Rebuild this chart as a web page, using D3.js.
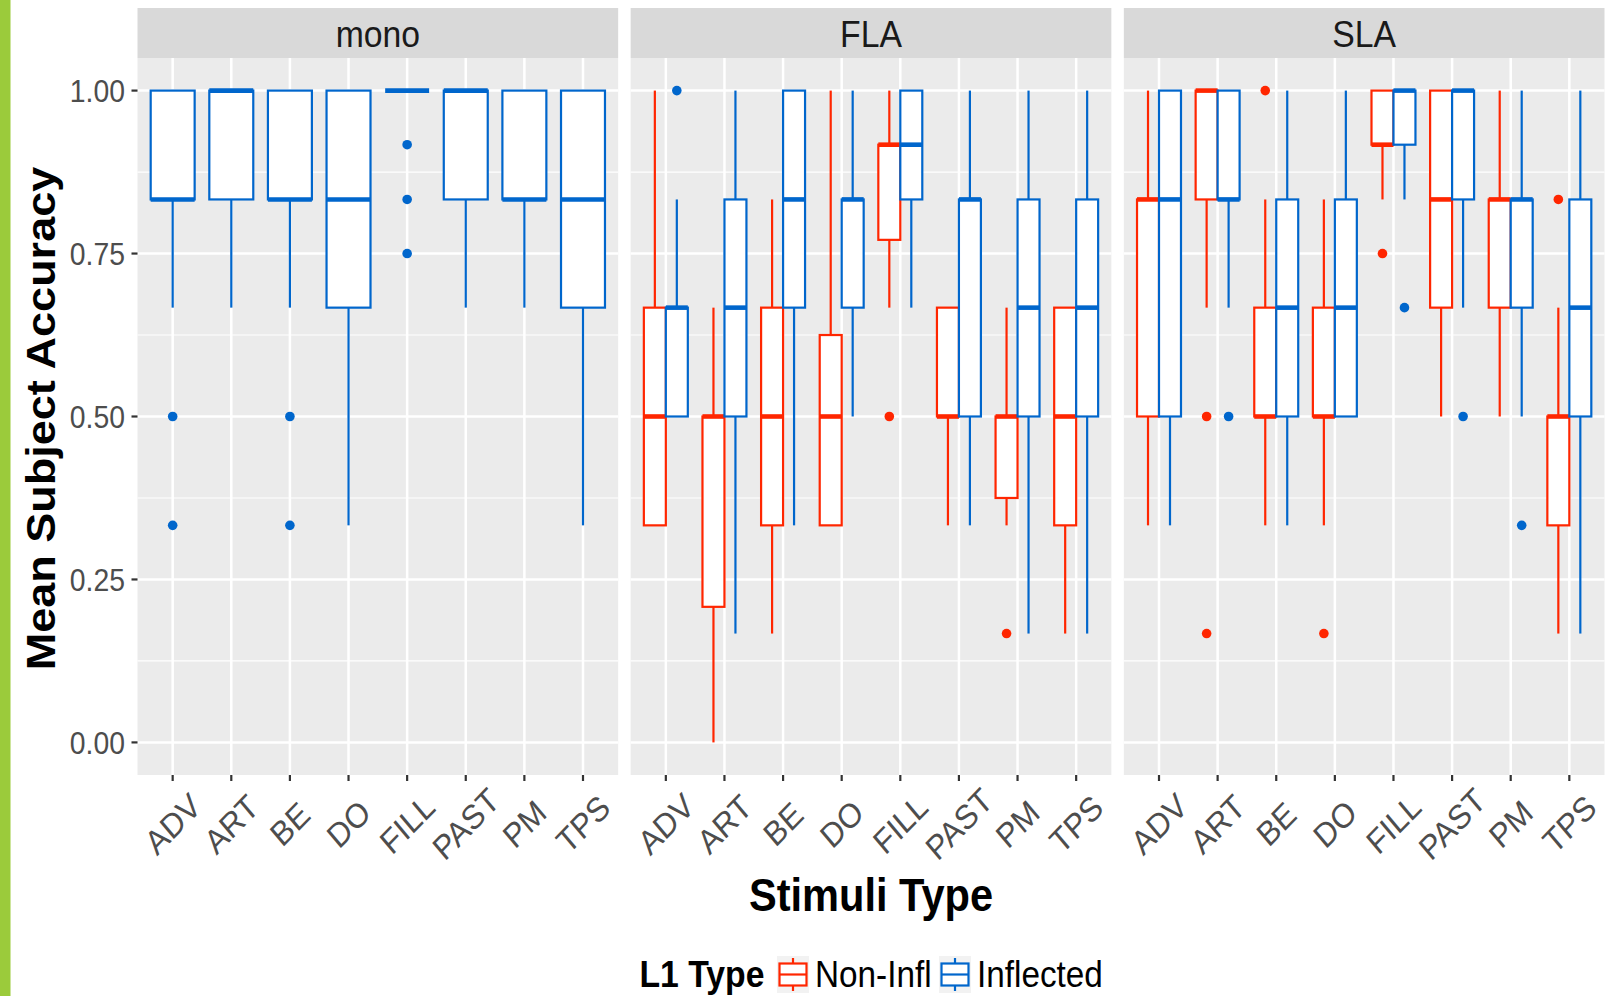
<!DOCTYPE html>
<html>
<head>
<meta charset="utf-8">
<script src="https://cdn.jsdelivr.net/npm/d3@7"></script>
<style>
  html, body { margin: 0; padding: 0; background: #fff; }
  svg { display: block; }
  text { font-family: "Liberation Sans", Arial, Helvetica, sans-serif; }
</style>
</head>
<body>
<svg id="chart" width="1620" height="996"></svg>
<script>
// ---------------- DATA ----------------
const categories = ["ADV", "ART", "BE", "DO", "FILL", "PAST", "PM", "TPS"];
const panels = ["mono", "FLA", "SLA"];
const groups = ["Non-Infl", "Inflected"];
const yTicks = [0, 0.25, 0.5, 0.75, 1];
const yTickLabels = ["0.00", "0.25", "0.50", "0.75", "1.00"];
const yMinor = [0.125, 0.375, 0.625, 0.875];

// each box: [lower whisker, Q1, median, Q3, upper whisker], one per category
const monoInflected = [
  [0.667, 0.833, 0.833, 1, 1],
  [0.667, 0.833, 1, 1, 1],
  [0.667, 0.833, 0.833, 1, 1],
  [0.333, 0.667, 0.833, 1, 1],
  [1, 1, 1, 1, 1],
  [0.667, 0.833, 1, 1, 1],
  [0.667, 0.833, 0.833, 1, 1],
  [0.333, 0.667, 0.833, 1, 1]
];
const monoInflectedOut = [[0.5, 0.333], [], [0.5, 0.333], [], [0.917, 0.833, 0.75], [], [], []];

const flaNonInfl = [
  [0.333, 0.333, 0.5, 0.667, 1],
  [0, 0.208, 0.5, 0.5, 0.667],
  [0.167, 0.333, 0.5, 0.667, 0.833],
  [0.333, 0.333, 0.5, 0.625, 1],
  [0.667, 0.771, 0.917, 0.917, 1],
  [0.333, 0.5, 0.5, 0.667, 0.667],
  [0.333, 0.375, 0.5, 0.5, 0.667],
  [0.167, 0.333, 0.5, 0.667, 0.667]
];
const flaNonInflOut = [[], [], [], [], [0.5], [], [0.167], []];

const flaInflected = [
  [0.5, 0.5, 0.667, 0.667, 0.833],
  [0.167, 0.5, 0.667, 0.833, 1],
  [0.333, 0.667, 0.833, 1, 1],
  [0.5, 0.667, 0.833, 0.833, 1],
  [0.667, 0.833, 0.917, 1, 1],
  [0.333, 0.5, 0.833, 0.833, 1],
  [0.167, 0.5, 0.667, 0.833, 1],
  [0.167, 0.5, 0.667, 0.833, 1]
];
const flaInflectedOut = [[1], [], [], [], [], [], [], []];

const slaNonInfl = [
  [0.333, 0.5, 0.833, 0.833, 1],
  [0.667, 0.833, 1, 1, 1],
  [0.333, 0.5, 0.5, 0.667, 0.833],
  [0.333, 0.5, 0.5, 0.667, 0.833],
  [0.833, 0.917, 0.917, 1, 1],
  [0.5, 0.667, 0.833, 1, 1],
  [0.5, 0.667, 0.833, 0.833, 1],
  [0.167, 0.333, 0.5, 0.5, 0.667]
];
const slaNonInflOut = [[], [0.5, 0.167], [1], [0.167], [0.75], [], [], [0.833]];

const slaInflected = [
  [0.333, 0.5, 0.833, 1, 1],
  [0.667, 0.833, 0.833, 1, 1],
  [0.333, 0.5, 0.667, 0.833, 1],
  [0.5, 0.5, 0.667, 0.833, 1],
  [0.833, 0.917, 1, 1, 1],
  [0.667, 0.833, 1, 1, 1],
  [0.5, 0.667, 0.833, 0.833, 1],
  [0.167, 0.5, 0.667, 0.833, 1]
];
const slaInflectedOut = [[], [0.5], [], [], [0.667], [0.5], [0.333], []];

const colors = { "Non-Infl": "#FF2600", "Inflected": "#0066CC" };

// panel -> list of series present
const panelSeries = {
  mono: [{ group: "Inflected", boxes: monoInflected, out: monoInflectedOut }],
  FLA: [
    { group: "Non-Infl", boxes: flaNonInfl, out: flaNonInflOut },
    { group: "Inflected", boxes: flaInflected, out: flaInflectedOut }
  ],
  SLA: [
    { group: "Non-Infl", boxes: slaNonInfl, out: slaNonInflOut },
    { group: "Inflected", boxes: slaInflected, out: slaInflectedOut }
  ]
};

// ---------------- LAYOUT ----------------
const W = 1620, H = 996;
const plotLeft = 137.5, plotRight = 1604.5;
const panelGap = 12.5;
const stripTop = 8, stripBottom = 58, panelBottom = 775;
const SX = 0.9; // horizontal text compression of the original
const svg = d3.select("#chart");

// left green bar
svg.append("rect").attr("x", 0).attr("y", 0).attr("width", 10.5).attr("height", H).attr("fill", "#9BCB3B");

const bandStep = (plotRight - plotLeft + panelGap) / 3;
const panelScale = d3.scaleBand().domain(panels)
  .range([plotLeft, plotRight])
  .paddingInner(panelGap / bandStep).paddingOuter(0);

const y = d3.scaleLinear().domain([-0.05, 1.05]).range([panelBottom, stripBottom]);

function compressedText(sel, x, yy, rot) {
  return sel.attr("transform", `translate(${x},${yy}) scale(${SX},1)` + (rot ? ` rotate(${rot})` : ""));
}

panels.forEach(p => {
  const left = panelScale(p), pw = panelScale.bandwidth();
  const x = d3.scalePoint().domain(categories).range([left, left + pw]).padding(0.6);
  const step = x.step();
  const g = svg.append("g");

  // strip
  g.append("rect").attr("x", left).attr("y", stripTop).attr("width", pw).attr("height", stripBottom - stripTop).attr("fill", "#D9D9D9");
  compressedText(g.append("text"), left + pw / 2, 46.5)
    .attr("text-anchor", "middle").attr("font-size", 37.5).attr("fill", "#1A1A1A").text(p);

  // panel background
  g.append("rect").attr("x", left).attr("y", stripBottom).attr("width", pw).attr("height", panelBottom - stripBottom).attr("fill", "#EBEBEB");

  // grid
  g.selectAll(".minor").data(yMinor).enter().append("line")
    .attr("x1", left).attr("x2", left + pw).attr("y1", d => y(d)).attr("y2", d => y(d))
    .attr("stroke", "#fff").attr("stroke-width", 1.2);
  g.selectAll(".major").data(yTicks).enter().append("line")
    .attr("x1", left).attr("x2", left + pw).attr("y1", d => y(d)).attr("y2", d => y(d))
    .attr("stroke", "#fff").attr("stroke-width", 2.5);
  g.selectAll(".vmajor").data(categories).enter().append("line")
    .attr("x1", d => x(d)).attr("x2", d => x(d)).attr("y1", stripBottom).attr("y2", panelBottom)
    .attr("stroke", "#fff").attr("stroke-width", 2.5);

  // x axis ticks and labels
  g.selectAll(".xt").data(categories).enter().append("line")
    .attr("x1", d => x(d)).attr("x2", d => x(d)).attr("y1", panelBottom).attr("y2", panelBottom + 6)
    .attr("stroke", "#333").attr("stroke-width", 2.2);
  categories.forEach(c => {
    compressedText(g.append("text"), x(c), 824, -43)
      .attr("text-anchor", "middle").attr("dy", "0.35em")
      .attr("font-size", 34).attr("fill", "#4D4D4D").text(c);
  });

  // boxes
  const series = panelSeries[p];
  const n = series.length;
  const totalW = 0.75 * step;
  const bw = totalW / n;
  series.forEach((s, si) => {
    const col = colors[s.group];
    const off = -totalW / 2 + bw * si + bw / 2;
    categories.forEach((c, ci) => {
      const [lo, q1, med, q3, hi] = s.boxes[ci];
      const cx = x(c) + off;
      const bg = g.append("g");
      // whiskers
      bg.append("line").attr("x1", cx).attr("x2", cx).attr("y1", y(q3)).attr("y2", y(hi))
        .attr("stroke", col).attr("stroke-width", 2.2);
      bg.append("line").attr("x1", cx).attr("x2", cx).attr("y1", y(q1)).attr("y2", y(lo))
        .attr("stroke", col).attr("stroke-width", 2.2);
      // box
      bg.append("rect").attr("x", cx - bw / 2).attr("y", y(q3)).attr("width", bw).attr("height", Math.max(0, y(q1) - y(q3)))
        .attr("fill", "#fff").attr("stroke", col).attr("stroke-width", 2.2);
      // median
      bg.append("line").attr("x1", cx - bw / 2).attr("x2", cx + bw / 2).attr("y1", y(med)).attr("y2", y(med))
        .attr("stroke", col).attr("stroke-width", 4.6);
      // outliers
      bg.selectAll("circle").data(s.out[ci]).enter().append("circle")
        .attr("cx", cx).attr("cy", d => y(d)).attr("r", 4.8).attr("fill", col);
    });
  });
});

// y axis (left panel only)
const yAxisG = svg.append("g");
yTicks.forEach((t, i) => {
  yAxisG.append("line").attr("x1", plotLeft - 6).attr("x2", plotLeft).attr("y1", y(t)).attr("y2", y(t))
    .attr("stroke", "#333").attr("stroke-width", 2.2);
  compressedText(yAxisG.append("text"), plotLeft - 12.5, y(t))
    .attr("text-anchor", "end").attr("dy", "0.36em").attr("font-size", 31.5).attr("fill", "#4D4D4D").text(yTickLabels[i]);
});

// axis titles
compressedText(svg.append("text"), 55, (stripBottom + panelBottom) / 2 + 2, -90)
  .attr("text-anchor", "middle").attr("font-size", 45).attr("font-weight", "bold").attr("fill", "#000")
  .text("Mean Subject Accuracy");
compressedText(svg.append("text"), (plotLeft + plotRight) / 2, 911)
  .attr("text-anchor", "middle").attr("font-size", 46.2).attr("font-weight", "bold").attr("fill", "#000")
  .text("Stimuli Type");

// legend
const lg = svg.append("g");
compressedText(lg.append("text"), 639.5, 987).attr("font-size", 37.5).attr("font-weight", "bold").attr("fill", "#000").text("L1 Type");
const keyX = [777, 939];
const labX = [815, 977];
groups.forEach((gname, i) => {
  const col = colors[gname];
  const kx = keyX[i], kw = 32, ky = 956, kh = 37;
  lg.append("rect").attr("x", kx).attr("y", ky).attr("width", kw).attr("height", kh).attr("fill", "#F2F2F2");
  const cx = kx + kw / 2;
  lg.append("line").attr("x1", cx).attr("x2", cx).attr("y1", ky + 2).attr("y2", ky + kh - 2).attr("stroke", col).attr("stroke-width", 2.2);
  lg.append("rect").attr("x", kx + 2.5).attr("y", ky + 7.5).attr("width", kw - 5).attr("height", kh - 15)
    .attr("fill", "#fff").attr("stroke", col).attr("stroke-width", 2.2);
  lg.append("line").attr("x1", kx + 2.5).attr("x2", kx + kw - 2.5).attr("y1", ky + kh / 2).attr("y2", ky + kh / 2)
    .attr("stroke", col).attr("stroke-width", 2.2);
  compressedText(lg.append("text"), labX[i], 987).attr("font-size", 37).attr("fill", "#000").text(gname);
});
</script>
</body>
</html>
